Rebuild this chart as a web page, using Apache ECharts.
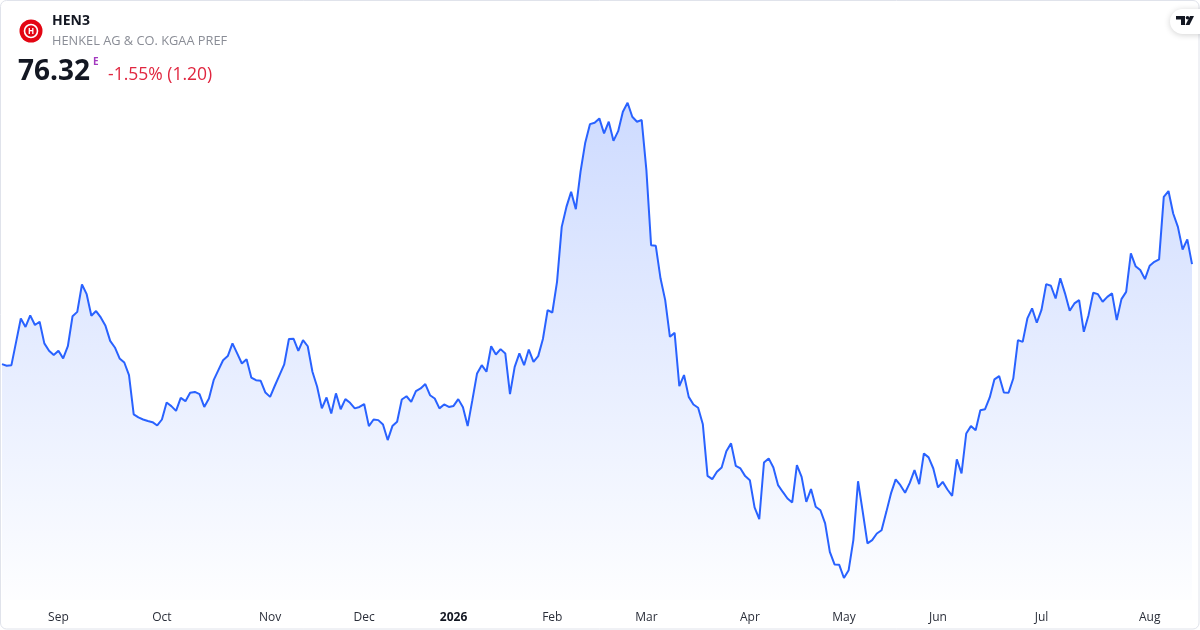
<!DOCTYPE html>
<html>
<head>
<meta charset="utf-8">
<script src="https://cdn.jsdelivr.net/npm/echarts@6/dist/echarts.min.js"></script>
<style>
  html, body { margin: 0; padding: 0; background: #ffffff; }
  #chart { width: 1200px; height: 630px; }
</style>
</head>
<body>
<div id="chart"></div>
<script>
// Trading calendar (Xetra): first day, last day and closed weekdays
const startDate = '2025-08-14';
const endDate = '2026-08-14';
const holidays = ['2025-12-24', '2025-12-25', '2025-12-26', '2025-12-31', '2026-01-01', '2026-04-03', '2026-04-06', '2026-05-01'];
const monthNames = ['Jan', 'Feb', 'Mar', 'Apr', 'May', 'Jun', 'Jul', 'Aug', 'Sep', 'Oct', 'Nov', 'Dec'];

// Daily closing prices (EUR)
const prices = [
  71.46, 71.38, 71.41, 72.54, 73.68, 73.27, 73.83, 73.36, 73.52, 72.47,
  72.11, 71.90, 72.11, 71.74, 72.33, 73.79, 74.00, 75.33, 74.86, 73.81,
  74.04, 73.73, 73.32, 72.59, 72.27, 71.74, 71.54, 70.93, 69.02, 68.87,
  68.77, 68.70, 68.64, 68.48, 68.77, 69.60, 69.42, 69.19, 69.82, 69.66,
  70.07, 70.11, 70.00, 69.38, 69.79, 70.68, 71.17, 71.65, 71.85, 72.47,
  71.98, 71.49, 71.70, 70.81, 70.68, 70.65, 70.08, 69.87, 70.41, 70.93,
  71.45, 72.68, 72.69, 72.11, 72.63, 72.33, 71.09, 70.36, 69.31, 69.84,
  69.06, 70.04, 69.27, 69.76, 69.58, 69.31, 69.38, 69.52, 68.45, 68.77,
  68.74, 68.53, 67.77, 68.45, 68.66, 69.74, 69.90, 69.63, 70.15, 70.28,
  70.49, 69.95, 69.79, 69.31, 69.50, 69.38, 69.43, 69.76, 69.36, 68.45,
  69.71, 71.01, 71.41, 71.09, 72.33, 71.93, 72.19, 71.98, 70.00, 71.33,
  71.98, 71.41, 72.17, 71.57, 71.85, 72.68, 74.08, 73.97, 75.46, 78.13,
  79.10, 79.83, 78.99, 80.81, 82.22, 83.12, 83.19, 83.40, 82.67, 83.24,
  82.31, 82.78, 83.72, 84.16, 83.48, 83.24, 83.32, 80.89, 77.24, 77.21,
  75.63, 74.57, 72.79, 72.98, 70.39, 70.93, 69.87, 69.50, 69.34, 68.54,
  66.03, 65.87, 66.23, 66.44, 67.23, 67.61, 66.52, 66.39, 66.02, 65.82,
  64.50, 63.93, 66.68, 66.88, 66.44, 65.58, 65.25, 64.93, 64.74, 66.55,
  65.98, 64.77, 65.39, 64.53, 64.36, 63.72, 62.34, 61.73, 61.71, 61.07,
  61.45, 62.91, 65.77, 64.28, 62.75, 62.91, 63.23, 63.39, 64.27, 65.18,
  65.86, 65.58, 65.21, 65.69, 66.31, 65.63, 67.12, 66.93, 66.39, 65.47,
  65.74, 65.37, 65.06, 66.83, 66.15, 68.09, 68.45, 68.25, 69.22, 69.27,
  69.84, 70.72, 70.88, 70.08, 70.07, 70.76, 72.63, 72.54, 73.68, 74.17,
  73.47, 74.10, 75.35, 75.27, 74.65, 75.63, 74.90, 74.05, 74.41, 74.57,
  73.03, 73.84, 74.93, 74.86, 74.49, 74.73, 74.90, 73.60, 74.62, 74.97,
  76.84, 76.22, 76.03, 75.59, 76.24, 76.43, 76.55, 79.59, 79.87, 78.78,
  78.13, 77.03, 77.52, 76.32
];

// Header texts
const ticker = 'HEN3';
const companyName = 'HENKEL AG & CO. KGAA PREF';
const lastPrice = '76.32';
const changeText = '-1.55% (1.20)';

// Build trading-day categories
function pad(n) { return n < 10 ? '0' + n : '' + n; }
const dates = [];
(function () {
  const d = new Date(startDate + 'T12:00:00Z');
  const end = new Date(endDate + 'T12:00:00Z');
  while (d <= end) {
    const wd = d.getUTCDay();
    const s = d.getUTCFullYear() + '-' + pad(d.getUTCMonth() + 1) + '-' + pad(d.getUTCDate());
    if (wd !== 0 && wd !== 6 && holidays.indexOf(s) < 0) dates.push(s);
    d.setUTCDate(d.getUTCDate() + 1);
  }
})();
const monthStart = dates.map((s, i) => i > 0 && s.slice(0, 7) !== dates[i - 1].slice(0, 7));

const chart = echarts.init(document.getElementById('chart'), null, { renderer: 'canvas' });
const FONT = '"Open Sans", "Noto Sans", sans-serif';

chart.setOption({
  animation: false,
  backgroundColor: '#ffffff',
  grid: { left: 2, right: 8, top: 90, bottom: 30, containLabel: false },
  xAxis: {
    type: 'category',
    data: dates,
    boundaryGap: false,
    axisLine: { show: false },
    axisTick: { show: false },
    splitLine: { show: false },
    axisLabel: {
      interval: (idx) => monthStart[idx],
      margin: 12,
      fontFamily: FONT,
      fontSize: 12,
      color: '#2a2e39',
      formatter: (v) => {
        const m = parseInt(v.slice(5, 7), 10);
        return m === 1 ? '{y|' + v.slice(0, 4) + '}' : monthNames[m - 1];
      },
      rich: { y: { fontWeight: 'bold', fontFamily: FONT, fontSize: 12, color: '#131722' } }
    }
  },
  yAxis: {
    type: 'value',
    show: false,
    min: 60,
    max: 84.78,
    splitLine: { show: false }
  },
  series: [{
    type: 'line',
    data: prices,
    symbol: 'none',
    smooth: false,
    lineStyle: { color: '#2962ff', width: 2 },
    areaStyle: {
      color: new echarts.graphic.LinearGradient(0, 0, 0, 1, [
        { offset: 0, color: 'rgba(41, 98, 255, 0.33)' },
        { offset: 1, color: 'rgba(41, 98, 255, 0.01)' }
      ])
    }
  }],
  graphic: [
    { type: 'rect', z: 100, shape: { x: 0.5, y: 0.5, width: 1198.5, height: 628.5, r: 6 },
      style: { fill: 'none', stroke: '#e0e3eb', lineWidth: 1 }, silent: true },
    // logo
    { type: 'circle', z: 100, shape: { cx: 31, cy: 31, r: 11.5 }, style: { fill: '#e30613' } },
    { type: 'circle', z: 101, shape: { cx: 31, cy: 31, r: 6.5 }, style: { fill: 'none', stroke: '#ffffff', lineWidth: 1.6 } },
    { type: 'text', z: 102, x: 31, y: 31.5, style: { text: 'H', fill: '#ffffff', font: 'bold 8px ' + FONT, align: 'center', verticalAlign: 'middle' } },
    { type: 'text', z: 100, x: 52, y: 21, style: { text: ticker, fill: '#131722', font: 'bold 14px ' + FONT, verticalAlign: 'middle' } },
    { type: 'text', z: 100, x: 52, y: 41, style: { text: companyName, fill: '#8a8d96', font: '12.8px ' + FONT, verticalAlign: 'middle' } },
    { type: 'text', z: 100, x: 18, y: 72, style: { text: lastPrice, fill: '#131722', font: 'bold 28px ' + FONT, verticalAlign: 'middle' } },
    { type: 'text', z: 100, x: 93, y: 62, style: { text: 'E', fill: '#a43ac0', font: 'bold 10px ' + FONT, verticalAlign: 'middle' } },
    { type: 'text', z: 100, x: 108, y: 75, style: { text: changeText, fill: '#e0263f', font: '17.5px ' + FONT, verticalAlign: 'middle' } },
    // TradingView badge
    { type: 'rect', z: 100, shape: { x: 1170, y: 9, width: 44, height: 25, r: 12.5 },
      style: { fill: '#ffffff', shadowBlur: 6, shadowColor: 'rgba(0,0,0,0.18)', shadowOffsetY: 1 } },
    { type: 'polygon', z: 101, shape: { points: [[1176, 16], [1185, 16], [1185, 25], [1181, 25], [1181, 19.5], [1176, 19.5]] }, style: { fill: '#131722' } },
    { type: 'circle', z: 101, shape: { cx: 1187.5, cy: 17.8, r: 1.8 }, style: { fill: '#131722' } },
    { type: 'polygon', z: 101, shape: { points: [[1190, 16], [1194, 16], [1189.5, 25], [1185.5, 25]] }, style: { fill: '#131722' } }
  ]
});
</script>
</body>
</html>
